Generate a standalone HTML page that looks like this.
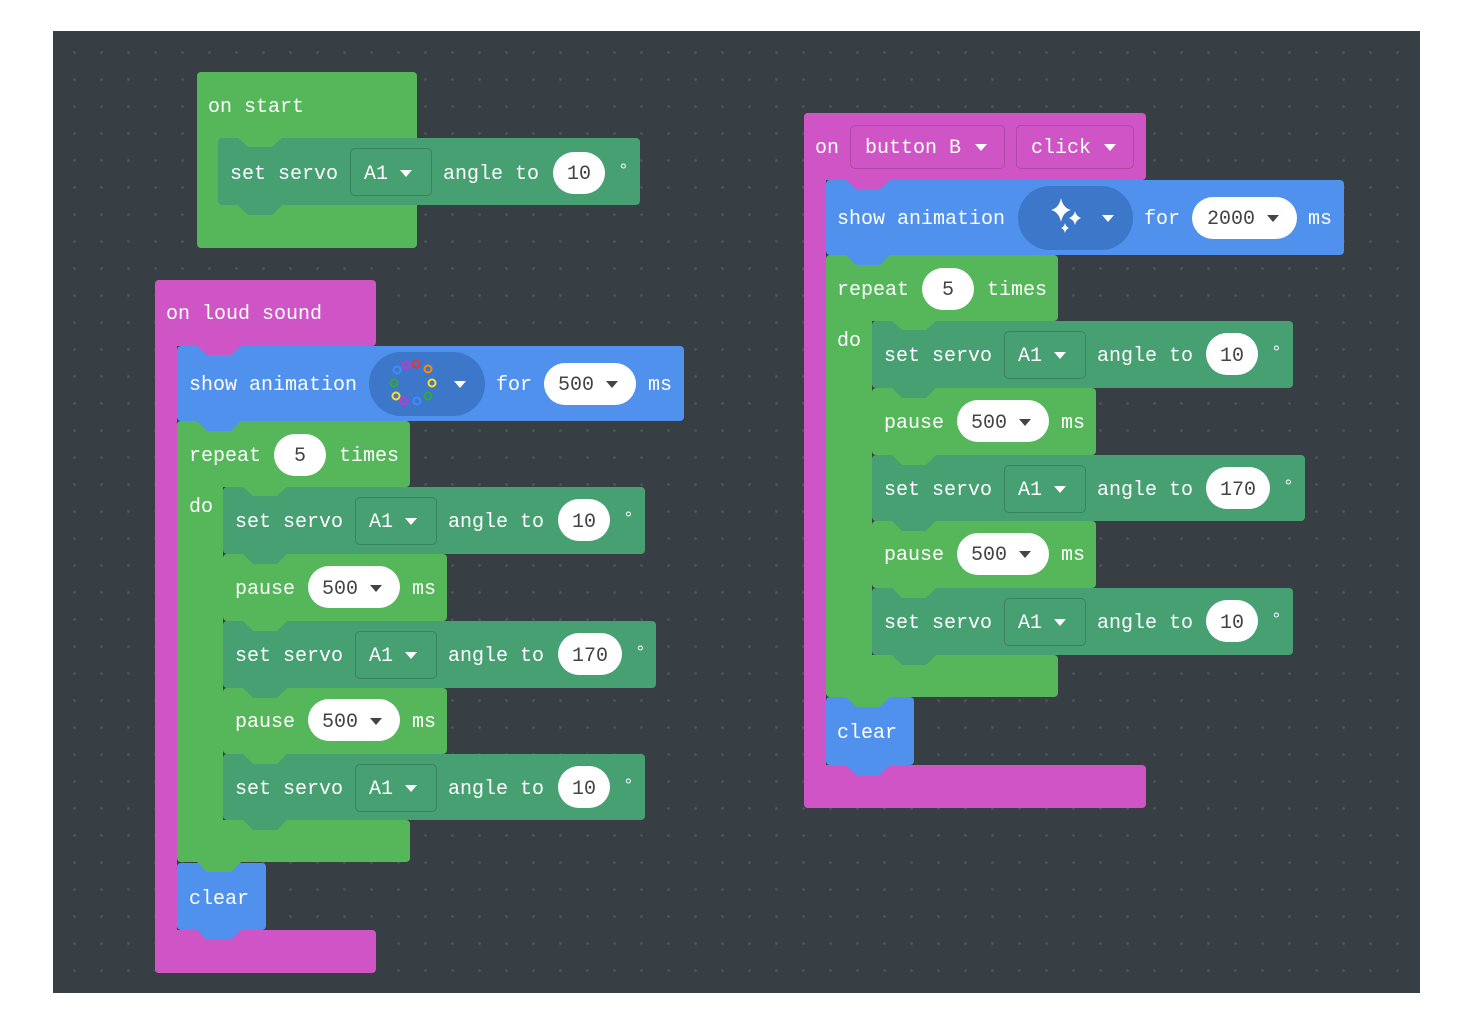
<!DOCTYPE html>
<html><head><meta charset="utf-8"><style>
body{margin:0;width:1466px;height:1034px;background:#fff;position:relative;overflow:hidden;font-family:"Liberation Mono",monospace}
#cv{position:absolute;left:53px;top:31px;width:1367px;height:962px;background-color:#383f44;background-image:radial-gradient(circle,#4d5459 1.2px,transparent 1.6px);background-size:27px 27px;background-position:8px 8px}
div{box-sizing:border-box}
.b{position:absolute;border-radius:4px}
.t{position:absolute;font-size:20px;line-height:24px;color:#fff;white-space:pre;transform:translateY(2px)}
.p{position:absolute;background:#fff;border-radius:21px;height:42px}
.dk{color:#444}
.dg{font-size:18px !important;transform:translateY(4px)}
.tri{position:absolute;width:0;height:0;border-left:6px solid transparent;border-right:6px solid transparent;border-top:7px solid #fff}
.trd{border-top-color:#444}
.dd{position:absolute;border:1.5px solid rgba(0,0,0,.18);border-radius:5px}
.n{position:absolute;width:44px;height:9px;clip-path:polygon(0 0,100% 0,77% 100%,23% 100%);z-index:1}
.tab{position:absolute;width:44px;height:10px;clip-path:polygon(0 0,100% 0,77% 100%,23% 100%);z-index:2}
.G{background:#55b65a}.S{background:#46a072}.M{background:#cf55c6}.B{background:#4f91ed}
</style></head><body>
<div id="cv"></div>

<!-- on start -->
<div class="b G" style="left:197px;top:72px;width:220px;height:176px"></div>
<div class="t" style="left:208px;top:94px">on start</div>
<div class="b S" style="left:218px;top:138px;width:422px;height:67px"></div>
<div class="n G" style="left:238px;top:138px"></div>
<div class="tab S" style="left:238px;top:205px"></div>
<div class="t" style="left:230px;top:161px">set servo</div>
<div class="dd" style="left:350px;top:148px;width:82px;height:48px"></div>
<div class="t" style="left:364px;top:161px">A1</div><div class="tri" style="left:400px;top:170px"></div>
<div class="t" style="left:443px;top:161px">angle to</div>
<div class="p" style="left:553px;top:152px;width:52px"></div><div class="t dk" style="left:567px;top:161px">10</div>
<div class="t dg" style="left:618px;top:156px">°</div>

<!-- on loud sound -->
<div class="b M" style="left:155px;top:280px;width:221px;height:66px"></div>
<div class="b M" style="left:155px;top:280px;width:22px;height:693px"></div>
<div class="b M" style="left:155px;top:930px;width:221px;height:43px"></div>
<div class="t" style="left:166px;top:301px">on loud sound</div>
<div class="b B" style="left:177px;top:346px;width:507px;height:75px"></div>
<div class="n M" style="left:197px;top:346px"></div>
<div class="tab B" style="left:197px;top:421px"></div>
<div class="t" style="left:189px;top:372px">show animation</div>
<div class="b" style="left:369px;top:352px;width:116px;height:64px;border-radius:32px;background:#3d77c9"></div>
<svg style="position:absolute;left:386px;top:354px" width="60" height="60">
<circle cx="30" cy="10" r="3.5" fill="none" stroke="#e33" stroke-width="2"/>
<circle cx="42" cy="15" r="3.5" fill="none" stroke="#f80" stroke-width="2"/>
<circle cx="46" cy="29" r="3.5" fill="none" stroke="#fd2" stroke-width="2"/>
<circle cx="42" cy="42" r="3.5" fill="none" stroke="#3a3" stroke-width="2"/>
<circle cx="31" cy="47" r="3.5" fill="none" stroke="#48f" stroke-width="2"/>
<circle cx="18" cy="47" r="3.5" fill="none" stroke="#c3c" stroke-width="2"/>
<circle cx="10" cy="42" r="3.5" fill="none" stroke="#fd2" stroke-width="2"/>
<circle cx="8" cy="29" r="3.5" fill="none" stroke="#3a3" stroke-width="2"/>
<circle cx="11" cy="16" r="3.5" fill="none" stroke="#48f" stroke-width="2"/>
<circle cx="20" cy="11" r="3.5" fill="none" stroke="#c3c" stroke-width="2"/>
</svg>
<div class="tri" style="left:454px;top:381px"></div>
<div class="t" style="left:496px;top:372px">for</div>
<div class="p" style="left:544px;top:363px;width:92px"></div><div class="t dk" style="left:558px;top:372px">500</div><div class="tri trd" style="left:606px;top:381px"></div>
<div class="t" style="left:648px;top:372px">ms</div>

<div class="b G" style="left:177px;top:421px;width:233px;height:66px"></div>
<div class="b G" style="left:177px;top:421px;width:46px;height:441px"></div>
<div class="b G" style="left:177px;top:820px;width:233px;height:42px"></div>
<div class="tab G" style="left:197px;top:862px"></div>
<div class="t" style="left:189px;top:443px">repeat</div>
<div class="p" style="left:274px;top:434px;width:52px"></div><div class="t dk" style="left:294px;top:443px">5</div>
<div class="t" style="left:339px;top:443px">times</div>
<div class="t" style="left:189px;top:494px">do</div>

<div class="b S" style="left:223px;top:487px;width:422px;height:67px"></div>
<div class="n G" style="left:243px;top:487px"></div><div class="tab S" style="left:243px;top:554px"></div>
<div class="t" style="left:235px;top:509px">set servo</div>
<div class="dd" style="left:355px;top:497px;width:82px;height:48px"></div>
<div class="t" style="left:369px;top:509px">A1</div><div class="tri" style="left:405px;top:518px"></div>
<div class="t" style="left:448px;top:509px">angle to</div>
<div class="p" style="left:558px;top:499px;width:52px"></div><div class="t dk" style="left:572px;top:509px">10</div>
<div class="t dg" style="left:623px;top:504px">°</div>

<div class="b G" style="left:223px;top:554px;width:224px;height:67px"></div>
<div class="tab G" style="left:243px;top:621px"></div>
<div class="t" style="left:235px;top:576px">pause</div>
<div class="p" style="left:308px;top:566px;width:92px"></div><div class="t dk" style="left:322px;top:576px">500</div><div class="tri trd" style="left:370px;top:585px"></div>
<div class="t" style="left:412px;top:576px">ms</div>

<div class="b S" style="left:223px;top:621px;width:433px;height:67px"></div>
<div class="tab S" style="left:243px;top:688px"></div>
<div class="t" style="left:235px;top:643px">set servo</div>
<div class="dd" style="left:355px;top:631px;width:82px;height:48px"></div>
<div class="t" style="left:369px;top:643px">A1</div><div class="tri" style="left:405px;top:652px"></div>
<div class="t" style="left:448px;top:643px">angle to</div>
<div class="p" style="left:558px;top:633px;width:64px"></div><div class="t dk" style="left:572px;top:643px">170</div>
<div class="t dg" style="left:635px;top:638px">°</div>

<div class="b G" style="left:223px;top:688px;width:224px;height:66px"></div>
<div class="tab G" style="left:243px;top:754px"></div>
<div class="t" style="left:235px;top:709px">pause</div>
<div class="p" style="left:308px;top:699px;width:92px"></div><div class="t dk" style="left:322px;top:709px">500</div><div class="tri trd" style="left:370px;top:718px"></div>
<div class="t" style="left:412px;top:709px">ms</div>

<div class="b S" style="left:223px;top:754px;width:422px;height:66px"></div>
<div class="tab S" style="left:243px;top:820px"></div>
<div class="t" style="left:235px;top:776px">set servo</div>
<div class="dd" style="left:355px;top:764px;width:82px;height:48px"></div>
<div class="t" style="left:369px;top:776px">A1</div><div class="tri" style="left:405px;top:785px"></div>
<div class="t" style="left:448px;top:776px">angle to</div>
<div class="p" style="left:558px;top:766px;width:52px"></div><div class="t dk" style="left:572px;top:776px">10</div>
<div class="t dg" style="left:623px;top:771px">°</div>

<div class="b B" style="left:177px;top:863px;width:89px;height:67px"></div>
<div class="tab B" style="left:197px;top:930px"></div>
<div class="t" style="left:189px;top:886px">clear</div>

<!-- on button B -->
<div class="b M" style="left:804px;top:113px;width:342px;height:67px"></div>
<div class="b M" style="left:804px;top:113px;width:22px;height:695px"></div>
<div class="b M" style="left:804px;top:765px;width:342px;height:43px"></div>
<div class="t" style="left:815px;top:135px">on</div>
<div class="dd" style="left:850px;top:125px;width:155px;height:44px;border-color:rgba(0,0,0,.15)"></div>
<div class="t" style="left:865px;top:135px">button B</div><div class="tri" style="left:975px;top:144px"></div>
<div class="dd" style="left:1016px;top:125px;width:118px;height:44px;border-color:rgba(0,0,0,.15)"></div>
<div class="t" style="left:1031px;top:135px">click</div><div class="tri" style="left:1104px;top:144px"></div>

<div class="b B" style="left:826px;top:180px;width:518px;height:75px"></div>
<div class="n M" style="left:846px;top:180px"></div><div class="tab B" style="left:846px;top:255px"></div>
<div class="t" style="left:837px;top:206px">show animation</div>
<div class="b" style="left:1018px;top:186px;width:115px;height:64px;border-radius:32px;background:#3d77c9"></div>
<svg style="position:absolute;left:1044px;top:196px" width="42" height="42">
<path d="M17 2 Q19 12 27 14 Q19 16 17 26 Q15 16 7 14 Q15 12 17 2Z" fill="#fff"/>
<path d="M31 15 Q32 20 37 22 Q32 24 31 29 Q30 24 25 22 Q30 20 31 15Z" fill="#fff"/>
<path d="M21 27 Q22 31 25 32 Q22 33 21 37 Q20 33 17 32 Q20 31 21 27Z" fill="#fff"/>
</svg>
<div class="tri" style="left:1102px;top:215px"></div>
<div class="t" style="left:1144px;top:206px">for</div>
<div class="p" style="left:1192px;top:197px;width:105px"></div><div class="t dk" style="left:1207px;top:206px">2000</div><div class="tri trd" style="left:1267px;top:215px"></div>
<div class="t" style="left:1308px;top:206px">ms</div>

<div class="b G" style="left:826px;top:255px;width:232px;height:66px"></div>
<div class="b G" style="left:826px;top:255px;width:46px;height:442px"></div>
<div class="b G" style="left:826px;top:655px;width:232px;height:42px"></div>
<div class="tab G" style="left:846px;top:697px"></div>
<div class="t" style="left:837px;top:277px">repeat</div>
<div class="p" style="left:922px;top:268px;width:52px"></div><div class="t dk" style="left:942px;top:277px">5</div>
<div class="t" style="left:987px;top:277px">times</div>
<div class="t" style="left:837px;top:328px">do</div>

<div class="b S" style="left:872px;top:321px;width:421px;height:67px"></div>
<div class="n G" style="left:892px;top:321px"></div><div class="tab S" style="left:892px;top:388px"></div>
<div class="t" style="left:884px;top:343px">set servo</div>
<div class="dd" style="left:1004px;top:331px;width:82px;height:48px"></div>
<div class="t" style="left:1018px;top:343px">A1</div><div class="tri" style="left:1054px;top:352px"></div>
<div class="t" style="left:1097px;top:343px">angle to</div>
<div class="p" style="left:1206px;top:333px;width:52px"></div><div class="t dk" style="left:1220px;top:343px">10</div>
<div class="t dg" style="left:1271px;top:338px">°</div>

<div class="b G" style="left:872px;top:388px;width:224px;height:67px"></div>
<div class="tab G" style="left:892px;top:455px"></div>
<div class="t" style="left:884px;top:410px">pause</div>
<div class="p" style="left:957px;top:400px;width:92px"></div><div class="t dk" style="left:971px;top:410px">500</div><div class="tri trd" style="left:1019px;top:419px"></div>
<div class="t" style="left:1061px;top:410px">ms</div>

<div class="b S" style="left:872px;top:455px;width:433px;height:66px"></div>
<div class="tab S" style="left:892px;top:521px"></div>
<div class="t" style="left:884px;top:477px">set servo</div>
<div class="dd" style="left:1004px;top:465px;width:82px;height:48px"></div>
<div class="t" style="left:1018px;top:477px">A1</div><div class="tri" style="left:1054px;top:486px"></div>
<div class="t" style="left:1097px;top:477px">angle to</div>
<div class="p" style="left:1206px;top:467px;width:64px"></div><div class="t dk" style="left:1220px;top:477px">170</div>
<div class="t dg" style="left:1283px;top:472px">°</div>

<div class="b G" style="left:872px;top:521px;width:224px;height:67px"></div>
<div class="tab G" style="left:892px;top:588px"></div>
<div class="t" style="left:884px;top:542px">pause</div>
<div class="p" style="left:957px;top:533px;width:92px"></div><div class="t dk" style="left:971px;top:542px">500</div><div class="tri trd" style="left:1019px;top:551px"></div>
<div class="t" style="left:1061px;top:542px">ms</div>

<div class="b S" style="left:872px;top:588px;width:421px;height:67px"></div>
<div class="tab S" style="left:892px;top:655px"></div>
<div class="t" style="left:884px;top:610px">set servo</div>
<div class="dd" style="left:1004px;top:598px;width:82px;height:48px"></div>
<div class="t" style="left:1018px;top:610px">A1</div><div class="tri" style="left:1054px;top:619px"></div>
<div class="t" style="left:1097px;top:610px">angle to</div>
<div class="p" style="left:1206px;top:600px;width:52px"></div><div class="t dk" style="left:1220px;top:610px">10</div>
<div class="t dg" style="left:1271px;top:605px">°</div>

<div class="b B" style="left:826px;top:697px;width:88px;height:68px"></div>
<div class="tab B" style="left:846px;top:765px"></div>
<div class="t" style="left:837px;top:720px">clear</div>
</body></html>
